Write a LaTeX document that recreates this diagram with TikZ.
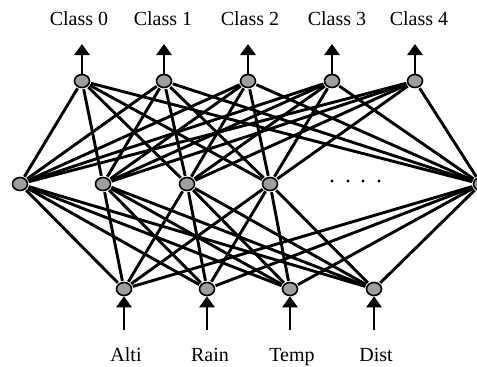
\documentclass[tikz,border=0pt]{standalone}
\usepackage{fontspec}
\setmainfont{Liberation Serif}
\usetikzlibrary{arrows.meta,calc,shapes.geometric}
\begin{document}
\begin{tikzpicture}[x=1pt,y=-1pt,
  neuron/.style={ellipse,draw=black,line width=1.6pt,fill=gray!75,minimum width=15pt,minimum height=13pt,inner sep=0pt},
  conn/.style={line width=2.9pt,black,shorten <=1pt,shorten >=1pt},
  sig/.style={line width=2.9pt,-{Triangle[width=15pt,length=11pt]}},
  lab/.style={font=\fontsize{20}{22}\selectfont,inner sep=0pt,anchor=base}]
\useasboundingbox (0,0) rectangle (477,367);
\clip (0,0) rectangle (477,367);
% output layer
\foreach \i/\x in {0/82,1/164,2/248,3/332,4/415}{
  \node[neuron] (o\i) at (\x,81) {};
}
% hidden layer
\foreach \i/\x in {1/20,2/103,3/187,4/270,5/481}{
  \node[neuron] (h\i) at (\x,184) {};
}
% input layer
\foreach \i/\x in {1/124,2/207,3/290,4/374}{
  \node[neuron] (in\i) at (\x,289) {};
}
% connections
\foreach \h in {1,...,5}{
  \foreach \o in {0,...,4}{ \draw[conn] (h\h) -- (o\o); }
  \foreach \n in {1,...,4}{ \draw[conn] (h\h) -- (in\n); }
}
% output arrows and labels
\foreach \i/\lx in {0/79,1/163,2/250,3/337,4/419}{
  \coordinate (ot\i) at ($(o\i)+(0,-37)$);
  \draw[sig] (o\i) -- (ot\i);
  \node[lab] (cl\i) at (\lx,25) {Class \i};
}
% input arrows
\foreach \i in {1,...,4}{
  \coordinate (ib\i) at ($(in\i)+(0,41)$);
  \draw[sig] (ib\i) -- (in\i);
}
\node[lab] (l1) at (126,361) {Alti};
\node[lab] (l2) at (210,361) {Rain};
\node[lab] (l3) at (292,361) {Temp};
\node[lab] (l4) at (376,361) {Dist};
% dots
\foreach \k/\x in {1/332,2/348,3/363,4/379}{
  \fill (\x,181) circle (1.6pt);
}
\end{tikzpicture}
\end{document}
